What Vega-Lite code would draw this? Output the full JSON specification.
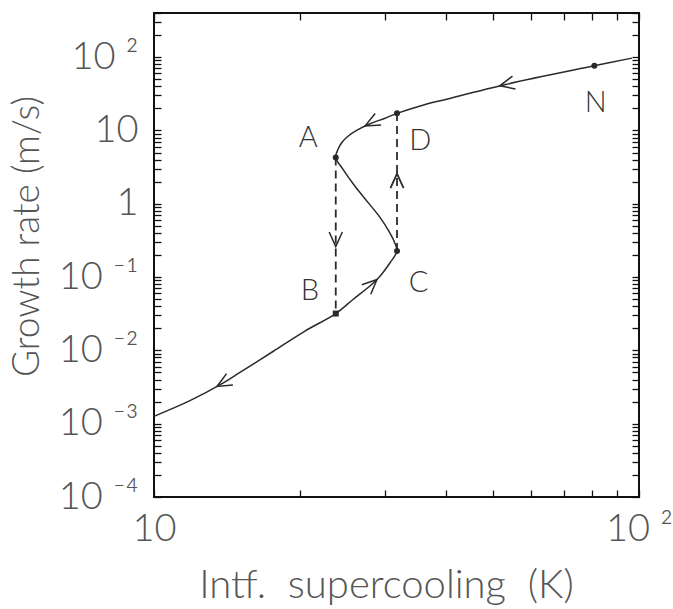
{
  "$schema": "https://vega.github.io/schema/vega-lite/v6.json",
  "width": 485,
  "height": 484,
  "autosize": {"type": "none"},
  "padding": {"left": 154, "top": 13, "right": 34, "bottom": 112},
  "background": "white",
  "config": {
    "view": {"stroke": "#111", "strokeWidth": 2},
    "font": "Lato",
    "axis": {
      "grid": false,
      "domain": false,
      "tickColor": "#111",
      "tickWidth": 1.3,
      "tickSize": 7,
      "offset": -7,
      "labelOverlap": false,
      "labelFlush": false,
      "labelBound": false,
      "labelFont": "Lato",
      "labelFontWeight": 300,
      "labelColor": "#555",
      "labelFontSize": 38,
      "titleFont": "Lato",
      "titleFontWeight": 300,
      "titleColor": "#555"
    }
  },
  "datasets": {
    "curve": [
      {"i": 1, "x": 96.7, "y": 96.9},
      {"i": 2, "x": 80.9, "y": 76.1},
      {"i": 3, "x": 53.4, "y": 42.8},
      {"i": 4, "x": 40.1, "y": 26.7},
      {"i": 5, "x": 35.4, "y": 21.6},
      {"i": 6, "x": 31.7, "y": 17.1},
      {"i": 7, "x": 29.94, "y": 14.68},
      {"i": 8, "x": 27.88, "y": 12.35},
      {"i": 9, "x": 26.22, "y": 10.07},
      {"i": 10, "x": 25.12, "y": 8.33},
      {"i": 11, "x": 24.42, "y": 6.9},
      {"i": 12, "x": 23.96, "y": 5.54},
      {"i": 13, "x": 23.7, "y": 4.26},
      {"i": 14, "x": 24.53, "y": 2.95},
      {"i": 15, "x": 25.97, "y": 1.73},
      {"i": 16, "x": 27.62, "y": 1.045},
      {"i": 17, "x": 29.24, "y": 0.652},
      {"i": 18, "x": 30.51, "y": 0.42},
      {"i": 19, "x": 31.4, "y": 0.288},
      {"i": 20, "x": 31.7, "y": 0.226},
      {"i": 21, "x": 30.67, "y": 0.1567},
      {"i": 22, "x": 29.24, "y": 0.1028},
      {"i": 23, "x": 28.1, "y": 0.0792},
      {"i": 24, "x": 25.72, "y": 0.0494},
      {"i": 25, "x": 23.7, "y": 0.0318},
      {"i": 26, "x": 20.48, "y": 0.01836},
      {"i": 27, "x": 17.62, "y": 0.00973},
      {"i": 28, "x": 15.04, "y": 0.005},
      {"i": 29, "x": 13.9, "y": 0.0036},
      {"i": 30, "x": 11.86, "y": 0.00206},
      {"i": 31, "x": 10.0, "y": 0.00126}
    ],
    "jumps": [
      {"from": "A", "to": "B", "x": 23.7, "y": 4.26, "y2": 0.0318},
      {"from": "C", "to": "D", "x": 31.7, "y": 0.226, "y2": 17.1}
    ],
    "points": [
      {"name": "A", "x": 23.7, "y": 4.26, "lx": 20.8, "ly": 8.0},
      {"name": "B", "x": 23.7, "y": 0.0318, "lx": 20.97, "ly": 0.0642},
      {"name": "C", "x": 31.7, "y": 0.226, "lx": 35.1, "ly": 0.0836},
      {"name": "D", "x": 31.7, "y": 17.1, "lx": 35.4, "ly": 7.19},
      {"name": "N", "x": 80.9, "y": 76.1, "lx": 81.4, "ly": 24.0}
    ],
    "arrows": [
      {"arrow": "u1", "x": 53.4, "y": 42.8},
      {"arrow": "u2", "x": 28.1, "y": 12.8},
      {"arrow": "l1", "x": 13.9, "y": 0.0036},
      {"arrow": "l2", "x": 28.1, "y": 0.0792},
      {"arrow": "dn", "x": 23.7, "y": 0.327},
      {"arrow": "up", "x": 31.7, "y": 2.05}
    ]
  },
  "layer": [
    {
      "data": {"name": "curve"},
      "mark": {"type": "line", "interpolate": "catmull-rom", "color": "#2a2a2a", "strokeWidth": 1.5},
      "encoding": {
        "x": {
          "field": "x", "type": "quantitative",
          "scale": {"type": "log", "domain": [10, 100], "nice": false},
          "axis": {
            "orient": "bottom",
            "values": [10, 20, 30, 40, 50, 60, 70, 80, 90, 100],
            "labelExpr": "datum.value == 10 ? '10' : datum.value == 100 ? '10 ²' : ''",
            "labelPadding": 13,
            "title": "Intf.\u00a0 supercooling\u00a0 (K)",
            "titleFontSize": 40,
            "titleX": 232,
            "titleY": 95,
            "titleBaseline": "middle",
            "titleAnchor": null
          }
        },
        "y": {
          "field": "y", "type": "quantitative",
          "scale": {"type": "log", "domain": [0.0001, 400], "nice": false},
          "axis": {
            "orient": "left",
            "values": [0.0001, 0.0002, 0.0003, 0.0004, 0.0005, 0.0006, 0.0007, 0.0008, 0.0009, 0.001, 0.002, 0.003, 0.004, 0.005, 0.006, 0.007, 0.008, 0.009, 0.01, 0.02, 0.03, 0.04, 0.05, 0.06, 0.07, 0.08, 0.09, 0.1, 0.2, 0.3, 0.4, 0.5, 0.6, 0.7, 0.8, 0.9, 1, 2, 3, 4, 5, 6, 7, 8, 9, 10, 20, 30, 40, 50, 60, 70, 80, 90, 100, 200, 300, 400],
            "labelExpr": "abs(log(datum.value)/LN10 - round(log(datum.value)/LN10)) > 0.001 ? '' : round(log(datum.value)/LN10) == 2 ? '10 ²' : round(log(datum.value)/LN10) == 1 ? '10\u00a0\u00a0' : round(log(datum.value)/LN10) == 0 ? '1\u00a0\u00a0\u00a0' : round(log(datum.value)/LN10) == -1 ? '10 ⁻¹' : round(log(datum.value)/LN10) == -2 ? '10 ⁻²' : round(log(datum.value)/LN10) == -3 ? '10 ⁻³' : '10 ⁻⁴'",
            "labelPadding": 16,
            "labelBaseline": "middle",
            "title": "Growth rate (m/s)",
            "titleFontSize": 37,
            "titleX": -134,
            "titleY": 223,
            "titleAngle": 270,
            "titleBaseline": "middle",
            "titleAnchor": null
          }
        },
        "order": {"field": "i", "type": "quantitative"}
      }
    },
    {
      "data": {"name": "jumps"},
      "mark": {"type": "rule", "color": "#2a2a2a", "strokeWidth": 1.8, "strokeDash": [8, 5]},
      "encoding": {
        "x": {
          "field": "x", "type": "quantitative",
          "scale": {"type": "log", "domain": [10, 100], "nice": false},
          "axis": {"orient": "top", "values": [10, 20, 30, 40, 50, 60, 70, 80, 90, 100], "labels": false, "title": null}
        },
        "y": {
          "field": "y", "type": "quantitative",
          "scale": {"type": "log", "domain": [0.0001, 400], "nice": false},
          "axis": {"orient": "right", "values": [0.0001, 0.0002, 0.0003, 0.0004, 0.0005, 0.0006, 0.0007, 0.0008, 0.0009, 0.001, 0.002, 0.003, 0.004, 0.005, 0.006, 0.007, 0.008, 0.009, 0.01, 0.02, 0.03, 0.04, 0.05, 0.06, 0.07, 0.08, 0.09, 0.1, 0.2, 0.3, 0.4, 0.5, 0.6, 0.7, 0.8, 0.9, 1, 2, 3, 4, 5, 6, 7, 8, 9, 10, 20, 30, 40, 50, 60, 70, 80, 90, 100, 200, 300, 400], "labels": false, "title": null}
        },
        "y2": {"field": "y2"}
      }
    },
    {
      "data": {"name": "arrows"},
      "encoding": {
        "x": {"field": "x", "type": "quantitative", "scale": {"type": "log", "domain": [10, 100], "nice": false}, "axis": null},
        "y": {"field": "y", "type": "quantitative", "scale": {"type": "log", "domain": [0.0001, 400], "nice": false}, "axis": null}
      },
      "layer": [
        {"transform": [{"filter": "datum.arrow == 'u1'"}], "mark": {"type": "point", "filled": false, "shape": "M -0.45 0.5 L 0 -0.5 L 0.45 0.5", "size": 850, "strokeWidth": 1.5, "color": "#2a2a2a", "opacity": 1, "angle": 257}},
        {"transform": [{"filter": "datum.arrow == 'u2'"}], "mark": {"type": "point", "filled": false, "shape": "M -0.45 0.5 L 0 -0.5 L 0.45 0.5", "size": 850, "strokeWidth": 1.5, "color": "#2a2a2a", "opacity": 1, "angle": 243}},
        {"transform": [{"filter": "datum.arrow == 'l1'"}], "mark": {"type": "point", "filled": false, "shape": "M -0.45 0.5 L 0 -0.5 L 0.45 0.5", "size": 850, "strokeWidth": 1.5, "color": "#2a2a2a", "opacity": 1, "angle": 241}},
        {"transform": [{"filter": "datum.arrow == 'l2'"}], "mark": {"type": "point", "filled": false, "shape": "M -0.45 0.5 L 0 -0.5 L 0.45 0.5", "size": 850, "strokeWidth": 1.5, "color": "#2a2a2a", "opacity": 1, "angle": 47}},
        {"transform": [{"filter": "datum.arrow == 'dn'"}], "mark": {"type": "point", "filled": false, "shape": "M -0.45 0.5 L 0 -0.5 L 0.45 0.5", "size": 850, "strokeWidth": 1.5, "color": "#2a2a2a", "opacity": 1, "angle": 180}},
        {"transform": [{"filter": "datum.arrow == 'up'"}], "mark": {"type": "point", "filled": false, "shape": "M -0.45 0.5 L 0 -0.5 L 0.45 0.5", "size": 850, "strokeWidth": 1.8, "color": "#2a2a2a", "opacity": 1, "angle": 0}}
      ]
    },
    {
      "data": {"name": "points"},
      "mark": {"type": "point", "filled": true, "size": 36, "color": "#2a2a2a", "opacity": 1},
      "encoding": {
        "x": {"field": "x", "type": "quantitative", "scale": {"type": "log", "domain": [10, 100], "nice": false}, "axis": null},
        "y": {"field": "y", "type": "quantitative", "scale": {"type": "log", "domain": [0.0001, 400], "nice": false}, "axis": null},
        "shape": {"field": "name", "type": "nominal", "scale": {"domain": ["A", "B", "C", "D", "N"], "range": ["circle", "square", "circle", "circle", "circle"]}, "legend": null}
      }
    },
    {
      "data": {"name": "points"},
      "mark": {"type": "text", "font": "Lato", "fontWeight": 300, "fontSize": 29, "color": "#333", "align": "center", "baseline": "middle"},
      "encoding": {
        "x": {"field": "lx", "type": "quantitative", "scale": {"type": "log", "domain": [10, 100], "nice": false}, "axis": null},
        "y": {"field": "ly", "type": "quantitative", "scale": {"type": "log", "domain": [0.0001, 400], "nice": false}, "axis": null},
        "text": {"field": "name"}
      }
    }
  ],
  "resolve": {"axis": {"x": "independent", "y": "independent"}}
}
